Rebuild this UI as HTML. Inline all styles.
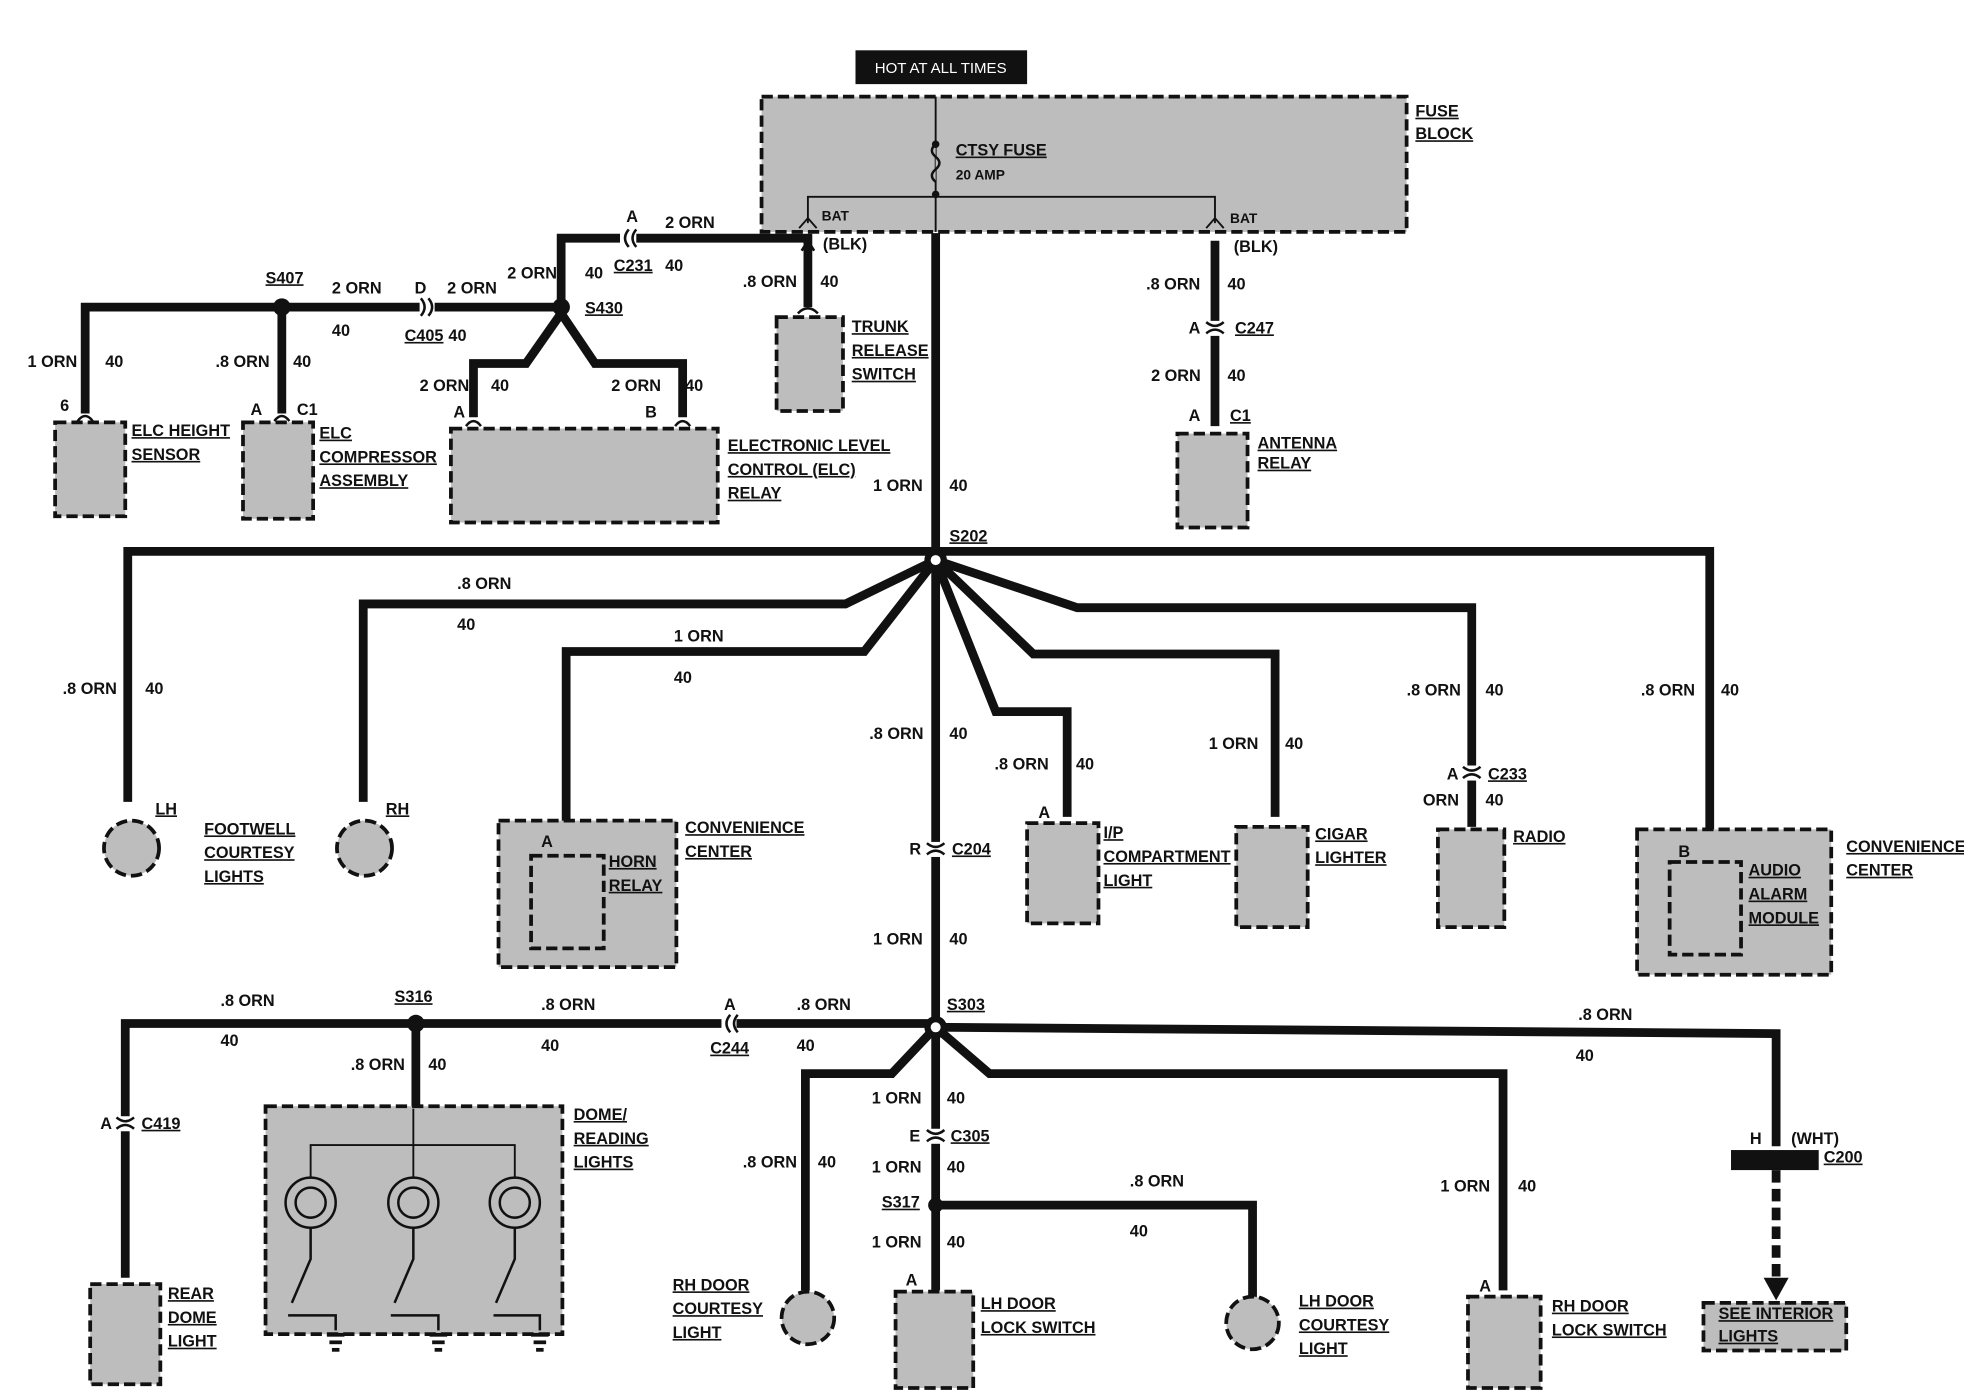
<!DOCTYPE html>
<html><head><meta charset="utf-8"><style>
html,body{margin:0;padding:0;background:#fff}
svg{display:block}
text{font-family:"Liberation Sans",sans-serif;font-weight:bold;font-size:13px;fill:#111}
.u{text-decoration:underline}
.w{fill:none;stroke:#111;stroke-width:7;stroke-linejoin:miter}
.b{fill:#bdbdbd;stroke:#111;stroke-width:3;stroke-dasharray:9 4}
.t{fill:none;stroke:#111;stroke-width:1.5}
.c{fill:#fff;stroke:#111;stroke-width:2}
</style></head><body>
<svg width="1964" height="1392" viewBox="0 0 1568 1111" xmlns="http://www.w3.org/2000/svg">
<rect width="1568" height="1111" fill="#fff"/>
<!-- header -->
<rect x="683" y="40" width="137" height="27" fill="#111"/>
<text x="751" y="58" text-anchor="middle" style="fill:#fff;font-weight:normal;font-size:12px">HOT AT ALL TIMES</text>
<!-- fuse block -->
<rect class="b" x="608" y="77" width="515" height="108"/>
<line class="t" x1="747" y1="77" x2="747" y2="185"/>
<path d="M747 115 q-6 5 0 10 q6 5 0 10 q-6 5 0 10" fill="#bdbdbd" stroke="#111" stroke-width="2"/>
<circle cx="747" cy="115" r="3" fill="#111"/><circle cx="747" cy="155" r="3" fill="#111"/>
<polyline class="t" points="645,178 645,157 970,157 970,178"/>
<path d="M638 182 L645 174 L652 182" class="t"/><path d="M963 182 L970 174 L977 182" class="t"/>
<text x="763" y="124" class="u">CTSY FUSE</text><text x="763" y="143" style="font-size:11px">20 AMP</text>
<text x="656" y="176" style="font-size:11px">BAT</text><text x="982" y="178" style="font-size:11px">BAT</text>
<text x="1130" y="93" class="u">FUSE</text><text x="1130" y="111" class="u">BLOCK</text>
<text x="657" y="199">(BLK)</text><text x="985" y="201">(BLK)</text>
<!-- main trunk -->
<line class="w" x1="747" y1="186" x2="747" y2="820"/>
<!-- left BAT branch -->
<polyline class="w" points="448,245 448,190 645,190 645,245"/>
<polyline class="w" points="68,330 68,245 448,245"/>
<line class="w" x1="225" y1="245" x2="225" y2="330"/>
<polyline class="w" points="378,333 378,290 420,290 448,250 475,290 545,290 545,333"/>
<circle cx="225" cy="245" r="7" fill="#111"/><circle cx="448" cy="245" r="7" fill="#111"/>
<!-- C231 C405 -->
<rect x="495" y="184" width="12" height="12" fill="#fff"/><path d="M502 183 q-6 7 0 14 M508 183 q-6 7 0 14" class="c" fill="none"/>
<rect x="335" y="239" width="12" height="12" fill="#fff"/><path d="M336 238 q6 7 0 14 M342 238 q6 7 0 14" fill="none" stroke="#111" stroke-width="2"/>
<text x="500" y="177">A</text><text x="531" y="182">2 ORN</text><text x="531" y="216">40</text><text x="490" y="216" class="u">C231</text>
<text x="405" y="222">2 ORN</text><text x="467" y="222">40</text><text x="467" y="250" class="u">S430</text>
<text x="212" y="226" class="u">S407</text><text x="265" y="234">2 ORN</text><text x="265" y="268">40</text>
<text x="331" y="234">D</text><text x="357" y="234">2 ORN</text><text x="323" y="272" class="u">C405</text><text x="358" y="272">40</text>
<text x="22" y="293">1 ORN</text><text x="84" y="293">40</text>
<text x="172" y="293">.8 ORN</text><text x="234" y="293">40</text>
<text x="335" y="312">2 ORN</text><text x="392" y="312">40</text>
<text x="488" y="312">2 ORN</text><text x="547" y="312">40</text>
<text x="48" y="328">6</text><text x="200" y="331">A</text><text x="237" y="331">C1</text>
<text x="362" y="333">A</text><text x="515" y="333">B</text>
<!-- pin arcs -->
<g fill="none" stroke="#111" stroke-width="2">
<path d="M62 336 q6 -8 12 0"/><path d="M219 336 q6 -8 12 0"/><path d="M372 340 q6 -8 12 0"/><path d="M539 340 q6 -8 12 0"/>
</g>
<rect class="b" x="44" y="337" width="56" height="75"/>
<rect class="b" x="194" y="337" width="56" height="77"/>
<rect class="b" x="360" y="342" width="213" height="75"/>
<text x="105" y="348" class="u">ELC HEIGHT</text><text x="105" y="367" class="u">SENSOR</text>
<text x="255" y="350" class="u">ELC</text><text x="255" y="369" class="u">COMPRESSOR</text><text x="255" y="388" class="u">ASSEMBLY</text>
<text x="581" y="360" class="u">ELECTRONIC LEVEL</text><text x="581" y="379" class="u">CONTROL (ELC)</text><text x="581" y="398" class="u">RELAY</text>
<!-- trunk release -->
<path d="M640 200 l5 -8 l5 8 M637 250 q8 -8 16 0" fill="none" stroke="#111" stroke-width="2"/>
<rect class="b" x="620" y="253" width="53" height="75"/>
<text x="593" y="229">.8 ORN</text><text x="655" y="229">40</text>
<text x="680" y="265" class="u">TRUNK</text><text x="680" y="284" class="u">RELEASE</text><text x="680" y="303" class="u">SWITCH</text>
<!-- antenna -->
<line class="w" x1="970" y1="192" x2="970" y2="340"/>
<rect x="963" y="256" width="14" height="12" fill="#fff"/><path d="M963 257 q7 6 14 0 M963 266 q7 -6 14 0" fill="none" stroke="#111" stroke-width="2"/>
<rect class="b" x="940" y="346" width="56" height="75"/>
<text x="915" y="231">.8 ORN</text><text x="980" y="231">40</text>
<text x="949" y="266">A</text><text x="986" y="266" class="u">C247</text>
<text x="919" y="304">2 ORN</text><text x="980" y="304">40</text>
<text x="949" y="336">A</text><text x="982" y="336" class="u">C1</text>
<text x="1004" y="358" class="u">ANTENNA</text><text x="1004" y="374" class="u">RELAY</text>
<text x="697" y="392">1 ORN</text><text x="758" y="392">40</text>
<!-- S202 -->
<polyline class="w" points="102,640 102,440 1365,440 1365,662"/>
<polyline class="w" points="290,640 290,482 675,482 747,447"/>
<polyline class="w" points="452,675 452,520 690,520 747,447"/>
<polyline class="w" points="747,447 795,568 852,568 852,652"/>
<polyline class="w" points="747,447 825,522 1018,522 1018,652"/>
<polyline class="w" points="747,447 860,485 1175,485 1175,660"/>
<circle cx="747" cy="447" r="9" fill="#111"/><circle cx="747" cy="447" r="4" fill="#fff"/>
<text x="758" y="432" class="u">S202</text>
<text x="365" y="470">.8 ORN</text><text x="365" y="503">40</text>
<text x="538" y="512">1 ORN</text><text x="538" y="545">40</text>
<text x="50" y="554">.8 ORN</text><text x="116" y="554">40</text>
<text x="694" y="590">.8 ORN</text><text x="758" y="590">40</text>
<text x="794" y="614">.8 ORN</text><text x="859" y="614">40</text>
<text x="965" y="598">1 ORN</text><text x="1026" y="598">40</text>
<text x="1123" y="555">.8 ORN</text><text x="1186" y="555">40</text>
<text x="1310" y="555">.8 ORN</text><text x="1374" y="555">40</text>
<!-- footwell -->
<circle cx="105" cy="677" r="22" class="b"/><circle cx="291" cy="677" r="22" class="b"/>
<text x="124" y="650" class="u">LH</text><text x="308" y="650" class="u">RH</text>
<text x="163" y="666" class="u">FOOTWELL</text><text x="163" y="685" class="u">COURTESY</text><text x="163" y="704" class="u">LIGHTS</text>
<!-- conv center -->
<rect class="b" x="398" y="655" width="142" height="117"/>
<rect class="b" x="424" y="683" width="58" height="74" fill="none"/>
<text x="432" y="676">A</text><text x="486" y="692" class="u">HORN</text><text x="486" y="711" class="u">RELAY</text>
<text x="547" y="665" class="u">CONVENIENCE</text><text x="547" y="684" class="u">CENTER</text>
<rect class="b" x="820" y="657" width="57" height="80"/>
<text x="829" y="653">A</text><text x="881" y="669" class="u">I/P</text><text x="881" y="688" class="u">COMPARTMENT</text><text x="881" y="707" class="u">LIGHT</text>
<rect class="b" x="987" y="660" width="57" height="80"/>
<text x="1050" y="670" class="u">CIGAR</text><text x="1050" y="689" class="u">LIGHTER</text>
<rect x="1168" y="611" width="14" height="12" fill="#fff"/><path d="M1168 612 q7 6 14 0 M1168 621 q7 -6 14 0" fill="none" stroke="#111" stroke-width="2"/>
<text x="1155" y="622">A</text><text x="1188" y="622" class="u">C233</text>
<text x="1136" y="643">ORN</text><text x="1186" y="643">40</text>
<rect class="b" x="1148" y="662" width="53" height="78"/>
<text x="1208" y="672" class="u">RADIO</text>
<rect class="b" x="1307" y="662" width="155" height="116"/>
<rect class="b" x="1333" y="688" width="57" height="74" fill="none"/>
<text x="1340" y="684">B</text><text x="1396" y="699" class="u">AUDIO</text><text x="1396" y="718" class="u">ALARM</text><text x="1396" y="737" class="u">MODULE</text>
<text x="1474" y="680" class="u">CONVENIENCE</text><text x="1474" y="699" class="u">CENTER</text>
<!-- C204 -->
<rect x="740" y="672" width="14" height="12" fill="#fff"/><path d="M740 673 q7 6 14 0 M740 682 q7 -6 14 0" fill="none" stroke="#111" stroke-width="2"/>
<text x="726" y="682">R</text><text x="760" y="682" class="u">C204</text>
<text x="697" y="754">1 ORN</text><text x="758" y="754">40</text>
<!-- S303 -->
<polyline class="w" points="100,1020 100,817 747,817"/>
<line class="w" x1="332" y1="817" x2="332" y2="885"/>
<polyline class="w" points="747,820 1418,825 1418,915"/>
<polyline class="w" points="643,1030 643,857 712,857 747,820"/>
<polyline class="w" points="747,820 790,857 1200,857 1200,1030"/>
<line class="w" x1="747" y1="820" x2="747" y2="1030"/>
<polyline class="w" points="747,962 1000,962 1000,1040"/>
<circle cx="332" cy="817" r="7" fill="#111"/><circle cx="747" cy="962" r="6" fill="#111"/>
<circle cx="747" cy="820" r="9" fill="#111"/><circle cx="747" cy="820" r="4" fill="#fff"/>
<rect x="576" y="811" width="12" height="12" fill="#fff"/><path d="M583 810 q-6 7 0 14 M589 810 q-6 7 0 14" fill="none" stroke="#111" stroke-width="2"/>
<rect x="93" y="891" width="14" height="12" fill="#fff"/><path d="M93 892 q7 6 14 0 M93 901 q7 -6 14 0" fill="none" stroke="#111" stroke-width="2"/>
<rect x="740" y="901" width="14" height="12" fill="#fff"/><path d="M740 902 q7 6 14 0 M740 911 q7 -6 14 0" fill="none" stroke="#111" stroke-width="2"/>
<text x="176" y="803">.8 ORN</text><text x="176" y="835">40</text>
<text x="315" y="800" class="u">S316</text>
<text x="432" y="806">.8 ORN</text><text x="432" y="839">40</text>
<text x="578" y="806">A</text><text x="567" y="841" class="u">C244</text>
<text x="636" y="806">.8 ORN</text><text x="636" y="839">40</text>
<text x="756" y="806" class="u">S303</text>
<text x="1260" y="814">.8 ORN</text><text x="1258" y="847">40</text>
<text x="280" y="854">.8 ORN</text><text x="342" y="854">40</text>
<text x="80" y="901">A</text><text x="113" y="901" class="u">C419</text>
<text x="696" y="881">1 ORN</text><text x="756" y="881">40</text>
<text x="726" y="911">E</text><text x="759" y="911" class="u">C305</text>
<text x="696" y="936">1 ORN</text><text x="756" y="936">40</text>
<text x="704" y="964" class="u">S317</text>
<text x="696" y="996">1 ORN</text><text x="756" y="996">40</text>
<text x="593" y="932">.8 ORN</text><text x="653" y="932">40</text>
<text x="902" y="947">.8 ORN</text><text x="902" y="987">40</text>
<text x="1150" y="951">1 ORN</text><text x="1212" y="951">40</text>
<!-- dome -->
<rect class="b" x="212" y="883" width="237" height="182"/>
<polyline class="t" points="248,940 248,914 411,914 411,940"/><line class="t" x1="330" y1="885" x2="330" y2="940"/>
<g fill="none" stroke="#111" stroke-width="2">
<circle cx="248" cy="960" r="20"/><circle cx="248" cy="960" r="12"/>
<circle cx="330" cy="960" r="20"/><circle cx="330" cy="960" r="12"/>
<circle cx="411" cy="960" r="20"/><circle cx="411" cy="960" r="12"/>
<path d="M248 980 v25 l-15 35 M330 980 v25 l-15 35 M411 980 v25 l-15 35"/>
<path d="M230 1050 h38 v12 M312 1050 h38 v12 M394 1050 h37 v12"/>
</g>
<g fill="#111"><rect x="261" y="1064" width="14" height="3"/><rect x="263" y="1070" width="10" height="3"/><rect x="265" y="1076" width="6" height="3"/>
<rect x="343" y="1064" width="14" height="3"/><rect x="345" y="1070" width="10" height="3"/><rect x="347" y="1076" width="6" height="3"/>
<rect x="424" y="1064" width="14" height="3"/><rect x="426" y="1070" width="10" height="3"/><rect x="428" y="1076" width="6" height="3"/></g>
<text x="458" y="894" class="u">DOME/</text><text x="458" y="913" class="u">READING</text><text x="458" y="932" class="u">LIGHTS</text>
<rect class="b" x="72" y="1025" width="56" height="80"/>
<text x="134" y="1037" class="u">REAR</text><text x="134" y="1056" class="u">DOME</text><text x="134" y="1075" class="u">LIGHT</text>
<circle cx="645" cy="1052" r="21" class="b"/>
<text x="537" y="1030" class="u">RH DOOR</text><text x="537" y="1049" class="u">COURTESY</text><text x="537" y="1068" class="u">LIGHT</text>
<rect class="b" x="715" y="1031" width="62" height="77"/>
<text x="723" y="1026">A</text><text x="783" y="1045" class="u">LH DOOR</text><text x="783" y="1064" class="u">LOCK SWITCH</text>
<circle cx="1000" cy="1056" r="21" class="b"/>
<text x="1037" y="1043" class="u">LH DOOR</text><text x="1037" y="1062" class="u">COURTESY</text><text x="1037" y="1081" class="u">LIGHT</text>
<rect class="b" x="1172" y="1035" width="58" height="73"/>
<text x="1181" y="1031">A</text><text x="1239" y="1047" class="u">RH DOOR</text><text x="1239" y="1066" class="u">LOCK SWITCH</text>
<!-- C200 -->
<rect x="1382" y="918" width="70" height="16" fill="#111"/>
<text x="1397" y="913">H</text><text x="1430" y="913">(WHT)</text><text x="1456" y="928" class="u">C200</text>
<line x1="1418" y1="934" x2="1418" y2="1020" stroke="#111" stroke-width="7" stroke-dasharray="10 5"/>
<path d="M1408 1020 h20 l-10 18 z" fill="#111"/>
<rect class="b" x="1360" y="1040" width="114" height="38"/>
<text x="1372" y="1053" class="u">SEE INTERIOR</text><text x="1372" y="1071" class="u">LIGHTS</text>
</svg>
</body></html>
